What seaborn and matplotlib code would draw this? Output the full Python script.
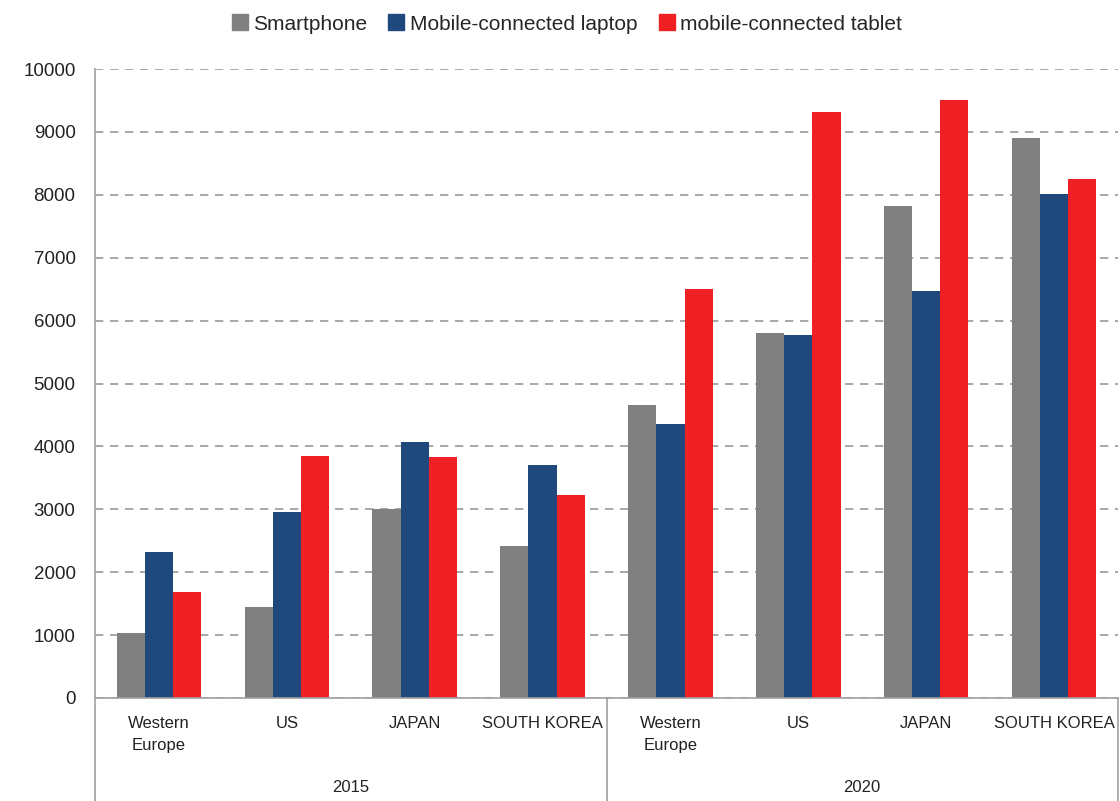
import matplotlib
matplotlib.use("Agg")
import matplotlib.pyplot as plt
import matplotlib.transforms as mtrans
import seaborn as sns
import pandas as pd
from matplotlib.lines import Line2D

years = ["2015", "2015", "2015", "2015", "2020", "2020", "2020", "2020"]
regions = ["Western\nEurope", "US", "JAPAN", "SOUTH KOREA",
           "Western\nEurope", "US", "JAPAN", "SOUTH KOREA"]
series = ["Smartphone", "Mobile-connected laptop", "mobile-connected tablet"]
smartphone = [1030, 1450, 3000, 2420, 4660, 5800, 7820, 8900]
laptop = [2320, 2950, 4070, 3700, 4360, 5770, 6470, 8010]
tablet = [1690, 3850, 3830, 3230, 6500, 9320, 9500, 8250]
colors = ["#808080", "#1F497D", "#EE2024"]

keys = [f"{y}|{r}" for y, r in zip(years, regions)]
rows = []
for name, vals in zip(series, [smartphone, laptop, tablet]):
    for k, v in zip(keys, vals):
        rows.append({"key": k, "series": name, "value": v})
df = pd.DataFrame(rows)

sns.set_theme(style="white")
plt.rcParams["font.family"] = ["Liberation Sans", "DejaVu Sans"]

fig = plt.figure(figsize=(11.2, 8.01), dpi=100)
ax = fig.add_axes([95 / 1120, 1 - 698 / 801, 1023 / 1120, (698 - 69) / 801])

sns.barplot(data=df, x="key", y="value", hue="series", order=keys,
            hue_order=series, palette=colors, width=0.66, saturation=1,
            edgecolor="none", ax=ax, legend=False)

ax.set_ylim(0, 10000)
ax.set_xlim(-0.5, len(keys) - 0.5)
ax.set_yticks(range(0, 10001, 1000))
ax.yaxis.grid(True, linestyle=(0, (5, 4)), color="#9a9a9a", linewidth=1.2)
ax.set_axisbelow(True)
ax.set_xlabel("")
ax.set_ylabel("")
ax.set_xticks(range(len(keys)))
ax.set_xticklabels(regions, fontsize=12, color="#222222", linespacing=1.55)
ax.tick_params(axis="x", length=0, pad=13)
ax.tick_params(axis="y", length=0, pad=14, labelsize=13.5, labelcolor="#222222")
for s in ["top", "right"]:
    ax.spines[s].set_visible(False)
for s in ["left", "bottom"]:
    ax.spines[s].set_color("#a0a0a0")
    ax.spines[s].set_linewidth(1.2)

# group separators and year labels
trans = mtrans.blended_transform_factory(ax.transData, ax.transAxes)
bottom_y = -(801 - 698) / (698 - 69)
for xpos in [-0.5, 3.5, 7.5]:
    ax.add_line(Line2D([xpos, xpos], [0, bottom_y], transform=trans,
                       color="#a0a0a0", linewidth=1.2, clip_on=False))
for i, yr in enumerate(["2015", "2020"]):
    ax.text(1.5 + 4 * i, -(787 - 698) / (698 - 69), yr, transform=trans,
            ha="center", va="center", fontsize=12, color="#222222")

handles = [Line2D([], [], marker="s", linestyle="none", markersize=11,
                  markerfacecolor=c, markeredgecolor=c) for c in colors]
fig.legend(handles, series, loc="upper center", bbox_to_anchor=(0.505, 1.005),
           ncol=3, frameon=False, fontsize=15, handletextpad=0.15,
           columnspacing=0.9, handlelength=1.0)

fig.savefig("out.png", dpi=100)
